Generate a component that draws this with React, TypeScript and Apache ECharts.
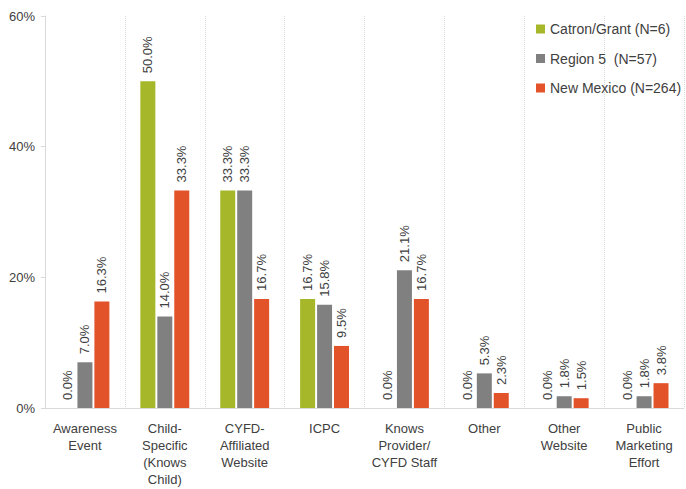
import React, { useEffect, useRef } from "react";
import * as echarts from "echarts";

const categories = [
  "Awareness\nEvent",
  "Child-\nSpecific\n(Knows\nChild)",
  "CYFD-\nAffiliated\nWebsite",
  "ICPC",
  "Knows\nProvider/\nCYFD Staff",
  "Other",
  "Other\nWebsite",
  "Public\nMarketing\nEffort",
];
const catronGrant = [0.0, 50.0, 33.3, 16.7, 0.0, 0.0, 0.0, 0.0];
const region5 = [7.0, 14.0, 33.3, 15.8, 21.1, 5.3, 1.8, 1.8];
const newMexico = [16.3, 33.3, 16.7, 9.5, 16.7, 2.3, 1.5, 3.8];
const seriesNames = ["Catron/Grant (N=6)", "Region 5  (N=57)", "New Mexico (N=264)"];
const yTicks = [0, 20, 40, 60];

const colors = ["#A6B82A", "#808080", "#E2532A"];
const FONT = "Liberation Sans";

export default function App() {
  const ref = useRef<HTMLDivElement>(null);
  useEffect(() => {
    if (!ref.current) return;
    const chart = echarts.init(ref.current, undefined, { renderer: "svg" });
    const mk = (name: string, data: number[], color: string) => ({
      name,
      type: "bar",
      data,
      barWidth: 15,
      barGap: "13%",
      itemStyle: { color },
      label: {
        show: true,
        position: "top",
        rotate: 90,
        align: "left",
        verticalAlign: "middle",
        distance: 8,
        fontFamily: FONT,
        fontSize: 13,
        color: "#404040",
        formatter: (p: any) => p.value.toFixed(1) + "%",
      },
    });
    chart.setOption({
      animation: false,
      color: colors,
      grid: { left: 45, right: 2, top: 16, bottom: 81, containLabel: false },
      legend: {
        orient: "vertical",
        left: 531,
        top: 16,
        itemWidth: 9,
        itemHeight: 9,
        itemGap: 13.5,
        icon: "rect",
        textStyle: { fontFamily: FONT, fontSize: 14, color: "#404040", lineHeight: 16 },
        data: seriesNames,
      },
      xAxis: {
        type: "category",
        data: categories,
        axisLine: { lineStyle: { color: "#D9D9D9" } },
        axisTick: { show: false },
        splitLine: { show: true, lineStyle: { color: "#D9D9D9", type: "dotted" } },
        axisLabel: {
          interval: 0,
          fontFamily: FONT,
          fontSize: 13,
          lineHeight: 17,
          color: "#404040",
          margin: 12,
        },
      },
      yAxis: {
        type: "value",
        min: yTicks[0],
        max: yTicks[yTicks.length - 1],
        interval: 20,
        axisLine: { show: true, lineStyle: { color: "#D9D9D9" } },
        axisTick: { show: true, length: 4, lineStyle: { color: "#D9D9D9" } },
        splitLine: { show: false },
        axisLabel: {
          formatter: "{value}%",
          fontFamily: FONT,
          fontSize: 13,
          color: "#404040",
          margin: 10,
        },
      },
      series: [
        mk(seriesNames[0], catronGrant, colors[0]),
        mk(seriesNames[1], region5, colors[1]),
        mk(seriesNames[2], newMexico, colors[2]),
      ],
    });
    return () => chart.dispose();
  }, []);
  return <div ref={ref} style={{ width: 686, height: 489, position: "absolute", left: 0, top: 0 }} />;
}
